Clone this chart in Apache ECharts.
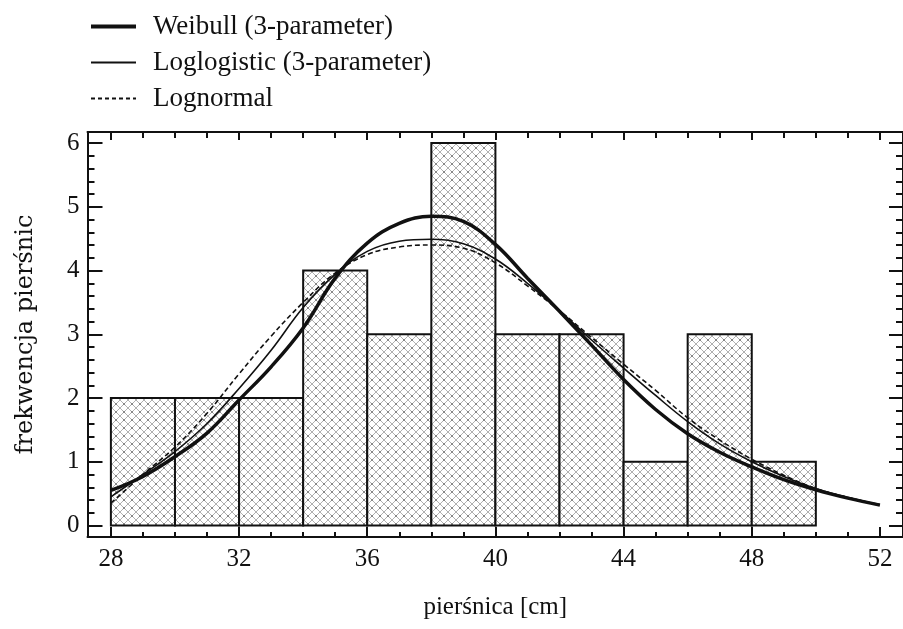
<!DOCTYPE html>
<html>
<head>
<meta charset="utf-8">
<script src="https://cdn.jsdelivr.net/npm/echarts@6/dist/echarts.min.js"></script>
<style>
  html, body { margin: 0; padding: 0; background: #fff; }
  #chart { width: 903px; height: 629px; }
</style>
</head>
<body>
<div id="chart"></div>
<script>
// histogram bins (width 2 cm) and counts
const binStart = [28, 30, 32, 34, 36, 38, 40, 42, 44, 46, 48];
const binEnd   = [30, 32, 34, 36, 38, 40, 42, 44, 46, 48, 50];
const counts   = [2, 2, 2, 4, 3, 6, 3, 3, 1, 3, 1];

// fitted curves at every cm
const xs = [28, 29, 30, 31, 32, 33, 34, 35, 36, 37, 38, 39, 40, 41, 42, 43, 44, 45, 46, 47, 48, 49, 50, 51, 52];
const weibull     = [0.55, 0.77, 1.08, 1.45, 1.97, 2.49, 3.10, 3.88, 4.43, 4.74, 4.85, 4.77, 4.41, 3.88, 3.36, 2.83, 2.29, 1.82, 1.44, 1.15, 0.92, 0.72, 0.56, 0.43, 0.32];
const loglogistic = [0.45, 0.80, 1.16, 1.60, 2.15, 2.75, 3.42, 3.94, 4.30, 4.46, 4.49, 4.42, 4.18, 3.80, 3.37, 2.91, 2.47, 2.04, 1.63, 1.28, 1.00, 0.77, 0.58, 0.44, 0.33];
const lognormal   = [0.35, 0.80, 1.23, 1.76, 2.38, 2.97, 3.50, 3.96, 4.25, 4.37, 4.40, 4.35, 4.12, 3.76, 3.37, 2.95, 2.53, 2.12, 1.69, 1.34, 1.04, 0.79, 0.58, 0.44, 0.32];

// tick labels
const xMajor = [28, 32, 36, 40, 44, 48, 52];
const yMajor = [0, 1, 2, 3, 4, 5, 6];

const xMinor = [];
for (let v = 28; v <= 52; v++) if (xMajor.indexOf(v) < 0) xMinor.push(v);
const yMinor = [];
for (let i = 0; i <= 30; i++) if (i % 5) yMinor.push(Math.round(i * 0.2 * 10) / 10);

const FONT = '"Liberation Serif", "DejaVu Serif", serif';
const INK = '#111';
const X_MIN = 27.27, X_MAX = 52.72;
const Y_MIN = -0.18, Y_MAX = 6.173;

// crosshatch fill
function hatch() {
  const c = document.createElement('canvas');
  c.width = 8; c.height = 8;
  const g = c.getContext('2d');
  g.fillStyle = '#fff';
  g.fillRect(0, 0, 8, 8);
  g.strokeStyle = '#b0b0b0';
  g.lineWidth = 1;
  g.beginPath();
  g.moveTo(0, 0); g.lineTo(8, 8);
  g.moveTo(8, 0); g.lineTo(0, 8);
  g.stroke();
  g.fillStyle = '#707070';
  g.fillRect(3.2, 3.2, 1.6, 1.6);
  return c;
}
const pattern = { image: hatch(), repeat: 'repeat' };

function pairs(ys) { return xs.map(function (x, i) { return [x, ys[i]]; }); }

function xAx(pos, ticks, len, labels, line) {
  return {
    type: 'value', position: pos, min: X_MIN, max: X_MAX,
    axisLine: { show: line, onZero: false, lineStyle: { color: INK, width: 2 } },
    axisTick: { show: true, inside: true, length: len, customValues: ticks, lineStyle: { color: INK, width: 2 } },
    axisLabel: labels ? { customValues: ticks, color: INK, fontFamily: FONT, fontSize: 25, margin: 10 } : { show: false },
    splitLine: { show: false }
  };
}
function yAx(pos, ticks, len, labels, line) {
  return {
    type: 'value', position: pos, min: Y_MIN, max: Y_MAX,
    axisLine: { show: line, onZero: false, lineStyle: { color: INK, width: 2 } },
    axisTick: { show: true, inside: true, length: len, customValues: ticks, lineStyle: { color: INK, width: 2 } },
    axisLabel: labels ? { customValues: ticks, color: INK, fontFamily: FONT, fontSize: 25, margin: 8 } : { show: false },
    splitLine: { show: false }
  };
}

const xAxes = [
  xAx('bottom', xMajor, 10, true, true),
  xAx('bottom', xMinor, 5, false, false),
  xAx('top', xMajor, 8, false, true),
  xAx('top', xMinor, 6, false, false)
];
xAxes[0].name = 'pierśnica [cm]';
xAxes[0].nameLocation = 'middle';
xAxes[0].nameGap = 58;
xAxes[0].nameTextStyle = { color: INK, fontFamily: FONT, fontSize: 25 };

const yAxes = [
  yAx('left', yMajor, 15, true, true),
  yAx('left', yMinor, 7, false, false),
  yAx('right', yMajor, 14, false, true),
  yAx('right', yMinor, 7, false, false)
];
yAxes[0].name = 'frekwencja pierśnic';
yAxes[0].nameLocation = 'middle';
yAxes[0].nameGap = 50;
yAxes[0].nameTextStyle = { color: INK, fontFamily: '"DejaVu Serif", serif', fontSize: 24 };

const chart = echarts.init(document.getElementById('chart'), null, { renderer: 'canvas' });
chart.setOption({
  animation: false,
  backgroundColor: '#fff',
  grid: { left: 87.5, right: -3, top: 132, bottom: 92, containLabel: false },
  legend: {
    orient: 'vertical', left: 84, top: 8,
    itemWidth: 45, itemHeight: 22, itemGap: 9,
    itemStyle: { opacity: 0 },
    textStyle: { color: INK, fontFamily: FONT, fontSize: 27, padding: [0, 0, 0, 12] },
    data: [
      { name: 'Weibull (3-parameter)', lineStyle: { width: 4 } },
      { name: 'Loglogistic (3-parameter)', lineStyle: { width: 2.2 } },
      { name: 'Lognormal', lineStyle: { width: 2, type: [4, 3] } }
    ]
  },
  xAxis: xAxes,
  yAxis: yAxes,
  series: [
    {
      type: 'custom', name: 'hist',
      xAxisIndex: 0, yAxisIndex: 0,
      encode: { x: [0, 1], y: 2 },
      data: binStart.map(function (s, i) { return [s, binEnd[i], counts[i]]; }),
      renderItem: function (params, api) {
        const p0 = api.coord([api.value(0), api.value(2)]);
        const p1 = api.coord([api.value(1), 0]);
        return {
          type: 'rect',
          shape: { x: p0[0], y: p0[1], width: p1[0] - p0[0], height: p1[1] - p0[1] },
          style: { fill: pattern, stroke: INK, lineWidth: 2 }
        };
      },
      z: 1
    },
    {
      name: 'Weibull (3-parameter)', type: 'line', data: pairs(weibull),
      smooth: 0.4, symbol: 'none', z: 5, itemStyle: { color: INK },
      lineStyle: { color: INK, width: 3.5 }
    },
    {
      name: 'Loglogistic (3-parameter)', type: 'line', data: pairs(loglogistic),
      smooth: 0.4, symbol: 'none', z: 4, itemStyle: { color: INK },
      lineStyle: { color: INK, width: 1.6 }
    },
    {
      name: 'Lognormal', type: 'line', data: pairs(lognormal),
      smooth: 0.4, symbol: 'none', z: 3, itemStyle: { color: INK },
      lineStyle: { color: INK, width: 1.6, type: [5, 3] }
    }
  ]
});
</script>
</body>
</html>
